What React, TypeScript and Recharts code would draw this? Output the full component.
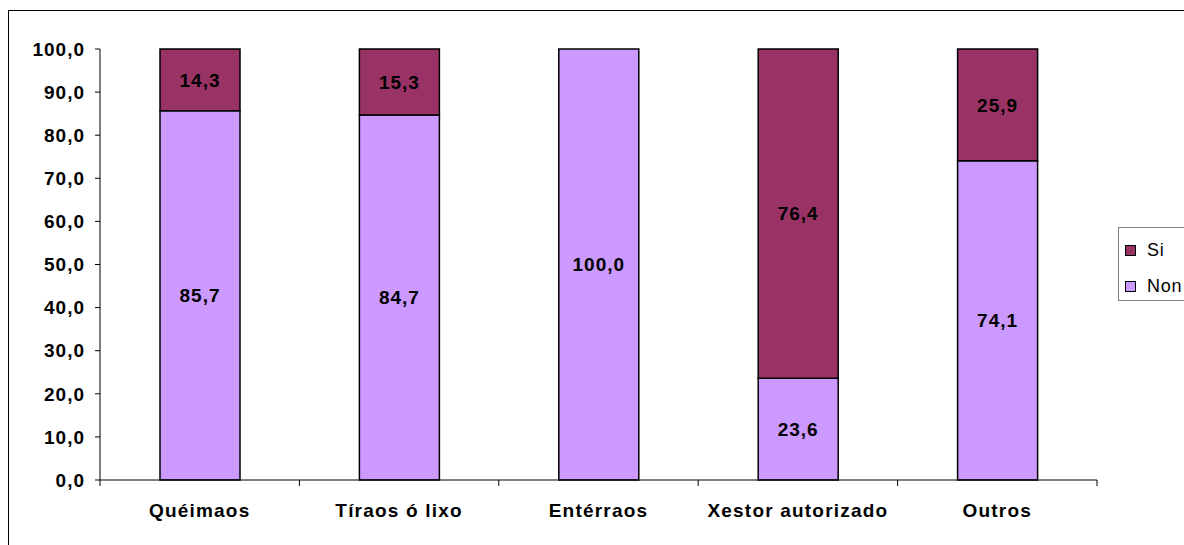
import { BarChart, Bar, XAxis, YAxis, LabelList } from 'recharts';

const categories = ['Quéimaos', 'Tíraos ó lixo', 'Entérraos', 'Xestor autorizado', 'Outros'];
const nonValues = [85.7, 84.7, 100.0, 23.6, 74.1];
const siValues: (number | null)[] = [14.3, 15.3, null, 76.4, 25.9];
const yTicks = [0, 10, 20, 30, 40, 50, 60, 70, 80, 90, 100];

const legendItems = [
  { name: 'Si', color: '#993366' },
  { name: 'Non', color: '#CC99FF' },
];

const data = categories.map((c, i) => ({ name: c, non: nonValues[i], si: siValues[i] }));

const fmt = (v: any) => (v == null ? '' : Number(v).toFixed(1).replace('.', ','));

const FONT = '"Liberation Sans", Arial, sans-serif';

function CategoryTick(props: any) {
  const { x, y, payload, index, visibleTicksCount } = props;
  const off = payload?.offset ?? 0;
  const last = index === (visibleTicksCount ?? categories.length) - 1;
  return (
    <g>
      <line x1={x - off} x2={x - off} y1={y} y2={y + 6} stroke="#000" strokeWidth={1} />
      {last && <line x1={x + off} x2={x + off} y1={y} y2={y + 6} stroke="#000" strokeWidth={1} />}
      <text
        x={x}
        y={y + 37}
        textAnchor="middle"
        fontFamily={FONT}
        fontWeight="bold"
        fontSize={19}
        letterSpacing={1.2}
        fill="#000"
      >
        {payload.value}
      </text>
    </g>
  );
}

function LegendBox() {
  return (
    <div
      style={{
        position: 'absolute',
        left: 1109,
        top: 216,
        border: '1px solid #808080',
        borderRight: 'none',
        background: '#fff',
        width: 70,
        height: 74,
        boxSizing: 'border-box',
        fontFamily: FONT,
        fontSize: 18,
        letterSpacing: 0.8,
        paddingTop: 4,
      }}
    >
      {legendItems.map((it) => (
        <div key={it.name} style={{ display: 'flex', alignItems: 'center', height: 36, paddingLeft: 6 }}>
          <span
            style={{
              display: 'inline-block',
              width: 9,
              height: 9,
              background: it.color,
              border: '1px solid #000',
              marginRight: 11,
            }}
          />
          <span>{it.name}</span>
        </div>
      ))}
    </div>
  );
}

export default function App() {
  return (
    <div
      style={{
        position: 'fixed',
        left: 8,
        top: 10,
        width: 1176,
        height: 535,
        borderTop: '1px solid #000',
        borderLeft: '1px solid #000',
        boxSizing: 'border-box',
        overflow: 'hidden',
        background: '#fff',
      }}
    >
      <style>{'html,body{overflow:hidden;}'}</style>
      <div style={{ position: 'relative' }}>
        <BarChart
          width={1160}
          height={534}
          data={data}
          margin={{ top: 38, right: 72, left: 0, bottom: 5 }}
          barSize={80}
        >
          <XAxis
            dataKey="name"
            tickLine={false}
            tickSize={0}
            tickMargin={0}
            height={60}
            axisLine={{ stroke: '#000', strokeWidth: 1 }}
            tick={<CategoryTick />}
            interval={0}
          />
          <YAxis
            type="number"
            domain={[0, 100]}
            ticks={yTicks}
            width={91}
            tickSize={5}
            tickMargin={10}
            tickFormatter={fmt}
            axisLine={{ stroke: '#000', strokeWidth: 1 }}
            tickLine={{ stroke: '#000', strokeWidth: 1 }}
            tick={{ fill: '#000', fontFamily: FONT, fontWeight: 'bold', fontSize: 19, letterSpacing: 1 }}
            interval={0}
          />
          <Bar dataKey="non" stackId="a" fill="#CC99FF" stroke="#000" strokeWidth={1.5} isAnimationActive={false}>
            <LabelList
              dataKey="non"
              position="center"
              formatter={fmt}
              fill="#000"
              fontFamily={FONT}
              fontWeight="bold"
              fontSize={19}
              letterSpacing={1}
            />
          </Bar>
          <Bar dataKey="si" stackId="a" fill="#993366" stroke="#000" strokeWidth={1.5} isAnimationActive={false}>
            <LabelList
              dataKey="si"
              position="center"
              formatter={fmt}
              fill="#000"
              fontFamily={FONT}
              fontWeight="bold"
              fontSize={19}
              letterSpacing={1}
            />
          </Bar>
        </BarChart>
        <LegendBox />
      </div>
    </div>
  );
}
